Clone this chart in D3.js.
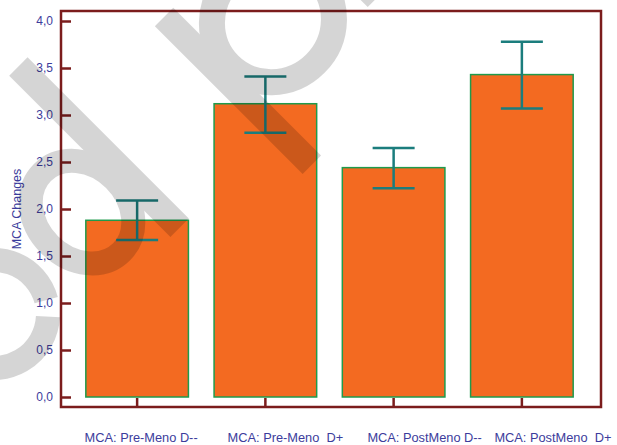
<!DOCTYPE html>
<html lang="en">
<head>
<meta charset="UTF-8">
<title>MCA Changes</title>
<style>
    body { margin: 0; background: #fff; }
    svg text { font-family: 'Liberation Sans', Arial, sans-serif; }
</style>
</head>
<body>
<div id="chart"></div>
<script src="https://d3js.org/d3.v7.min.js"></script>
<script>
    const width = 617, height = 445;

    // data
    const categories = ["MCA: Pre-Meno D--", "MCA: Pre-Meno  D+", "MCA: PostMeno D--", "MCA: PostMeno  D+"];
    const means = [1.88, 3.12, 2.44, 3.43];
    const errLow = [1.67, 2.81, 2.22, 3.07];
    const errHigh = [2.09, 3.41, 2.65, 3.78];
    const yTicks = [0, 0.5, 1, 1.5, 2, 2.5, 3, 3.5, 4];

    const frame = {left: 61, top: 11, right: 601, bottom: 407};
    const axisCol = "#7b1c1c", textCol = "#3c3c9c";

    const svg = d3.select("#chart").append("svg")
        .attr("width", width).attr("height", height);

    const x = d3.scaleBand().domain(categories).range([73, 586])
        .paddingInner(0.2).paddingOuter(0.1);
    const y = d3.scaleLinear().domain([0, 4]).range([397, 21]);
    const fmt = d => d3.format(".1f")(d).replace(".", ",");
    const mid = d => x(d) + x.bandwidth() / 2;

    // bars
    svg.selectAll("rect.bar")
        .data(categories)
        .enter().append("rect")
        .attr("class", "bar")
        .attr("x", d => x(d))
        .attr("width", x.bandwidth())
        .attr("y", (d, i) => y(means[i]))
        .attr("height", (d, i) => y(0) - y(means[i]))
        .attr("fill", "#f36a21")
        .attr("stroke", "#1f9a4c")
        .attr("stroke-width", 1.5);

    // error bars
    const cap = 21;
    const eb = svg.selectAll("g.err").data(categories).enter().append("g")
        .attr("stroke", "#1b7d7d").attr("stroke-width", 2.5);
    eb.append("line")
        .attr("x1", mid).attr("x2", mid)
        .attr("y1", (d, i) => y(errLow[i])).attr("y2", (d, i) => y(errHigh[i]));
    eb.append("line")
        .attr("x1", d => mid(d) - cap).attr("x2", d => mid(d) + cap)
        .attr("y1", (d, i) => y(errHigh[i])).attr("y2", (d, i) => y(errHigh[i]));
    eb.append("line")
        .attr("x1", d => mid(d) - cap).attr("x2", d => mid(d) + cap)
        .attr("y1", (d, i) => y(errLow[i])).attr("y2", (d, i) => y(errLow[i]));

    // frame
    svg.append("rect")
        .attr("x", frame.left).attr("y", frame.top)
        .attr("width", frame.right - frame.left).attr("height", frame.bottom - frame.top)
        .attr("fill", "none").attr("stroke", axisCol).attr("stroke-width", 2.5);

    // y axis, ticks pointing inwards
    const yAxis = svg.append("g")
        .attr("transform", `translate(${frame.left},0)`)
        .call(d3.axisRight(y).tickValues(yTicks).tickSize(10).tickFormat(fmt));
    yAxis.select(".domain").remove();
    yAxis.selectAll(".tick line").attr("stroke", axisCol).attr("stroke-width", 2.5);
    yAxis.selectAll(".tick text")
        .attr("x", -8).attr("text-anchor", "end")
        .attr("fill", textCol).style("font-size", "12px");

    // x axis, ticks pointing up
    const labelShift = [4, 20, 31, 31];
    const xAxis = svg.append("g")
        .attr("transform", `translate(0,${frame.bottom})`)
        .call(d3.axisTop(x).tickSize(9).tickSizeOuter(0));
    xAxis.select(".domain").remove();
    xAxis.selectAll(".tick line").attr("stroke", axisCol).attr("stroke-width", 2.5);
    xAxis.selectAll(".tick text")
        .attr("y", 35).attr("dy", 0)
        .attr("dx", (d, i) => labelShift[i])
        .attr("fill", textCol).style("font-size", "12.8px")
        .style("white-space", "pre");

    svg.append("text")
        .attr("transform", "translate(21,209) rotate(-90)")
        .attr("text-anchor", "middle")
        .attr("fill", textCol).style("font-size", "12.5px")
        .text("MCA Changes");

    // watermark (grey diagonal letters over the chart)
    const wm = svg.append("g").attr("opacity", 0.16)
        .attr("fill", "none").attr("stroke", "#000");
    // "c", drawn in page coordinates
    wm.append("path").attr("stroke-width", 24)
        .attr("d", d3.arc()({innerRadius: 54, outerRadius: 54, startAngle: Math.PI / 2 + 0.05, endAngle: Math.PI * 2 + Math.PI / 2 - 0.26})
        ).attr("transform", "translate(-6,314)");
    const letters = wm.append("g").attr("transform", "rotate(-45)");
    // "d"
    letters.append("line").attr("stroke-width", 26)
        .attr("x1", -34).attr("x2", -34).attr("y1", 60).attr("y2", 288);
    letters.append("ellipse").attr("stroke-width", 24)
        .attr("cx", -92).attr("cy", 208).attr("rx", 46).attr("ry", 56);
    // "p"
    letters.append("line").attr("stroke-width", 26)
        .attr("x1", 104).attr("x2", 104).attr("y1", 128).attr("y2", 337);
    letters.append("ellipse").attr("stroke-width", 26)
        .attr("cx", 178).attr("cy", 208).attr("rx", 62).attr("ry", 60);
    // next letter, only its foot shows
    letters.append("line").attr("stroke-width", 26)
        .attr("x1", 268).attr("x2", 268).attr("y1", 130).attr("y2", 265);
</script>
</body>
</html>
